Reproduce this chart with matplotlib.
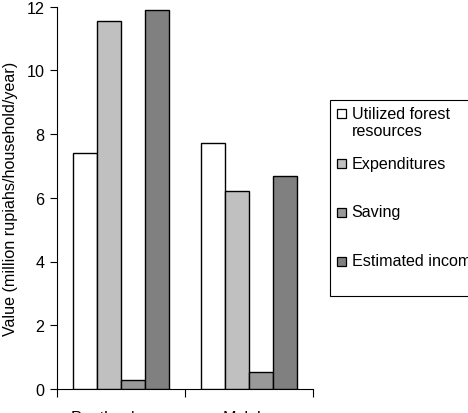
import matplotlib
matplotlib.use("Agg")
import matplotlib.pyplot as plt
import numpy as np
from matplotlib.patches import Rectangle

plt.rcParams['font.family'] = ['Liberation Sans', 'DejaVu Sans']

categories = ["Peatland area", "Malaka"]
series_names = ["Utilized forest\nresources", "Expenditures", "Saving", "Estimated income"]
utilized = [7.4, 7.72]
expenditures = [11.55, 6.22]
saving = [0.28, 0.52]
estimated = [11.9, 6.68]
colors = ["#FFFFFF", "#C0C0C0", "#999999", "#808080"]
yticks = [0, 2, 4, 6, 8, 10, 12]

W, H = 468, 414
fig = plt.figure(figsize=(W/100, H/100), dpi=100)
ax = fig.add_axes([57/W, 1-390/H, (313-57)/W, (390-7.5)/H])

x = np.arange(len(categories))
w = 0.1875
series = [utilized, expenditures, saving, estimated]
for i, (vals, c) in enumerate(zip(series, colors)):
    ax.bar(x + (i - 1.5) * w, vals, width=w, color=c, edgecolor='black', linewidth=1.0, zorder=3)

ax.set_xlim(-0.5, 1.5)
ax.set_ylim(0, 12)
ax.set_yticks(yticks)
ax.set_yticklabels([str(t) for t in yticks], fontsize=11.6)
ax.set_xticks(x)
ax.set_xticklabels(categories, fontsize=11.6)
ax.set_xticks([-0.5, 0.5, 1.5], minor=True)
ax.tick_params(axis='x', which='major', length=0, pad=15)
ax.tick_params(axis='x', which='minor', length=6, width=0.8, direction='out')
ax.tick_params(axis='y', which='major', length=5, width=0.8, direction='out', pad=4)

for s in ['top', 'right']:
    ax.spines[s].set_visible(False)
for s in ['left', 'bottom']:
    ax.spines[s].set_linewidth(0.8)

ax.set_ylabel("Value (million rupiahs/household/year)", fontsize=11.6)
ax.yaxis.set_label_coords((18 - 57) / 256, 0.5)

# manual legend (Excel-style, evenly spaced entries, clipped at right edge)
def fx(px):
    return px / W

def fy(py):
    return 1 - py / H

fig.add_artist(Rectangle((fx(330), fy(297)), fx(495) - fx(330), fy(100.5) - fy(297),
                         transform=fig.transFigure, facecolor='white', edgecolor='black',
                         linewidth=0.8, zorder=5))
entry_y = [114.5, 164.5, 213, 262]
for name, c, yy in zip(series_names, colors, entry_y):
    fig.add_artist(Rectangle((fx(337), fy(yy + 4.5)), fx(9), 9 / H,
                             transform=fig.transFigure, facecolor=c, edgecolor='black',
                             linewidth=0.9, zorder=6))
    for k, line in enumerate(name.split("\n")):
        fig.text(fx(351.5), fy(yy + 16.5 * k), line, fontsize=11.6, va='center', ha='left',
                 zorder=7)

fig.savefig("out.png", dpi=100)
